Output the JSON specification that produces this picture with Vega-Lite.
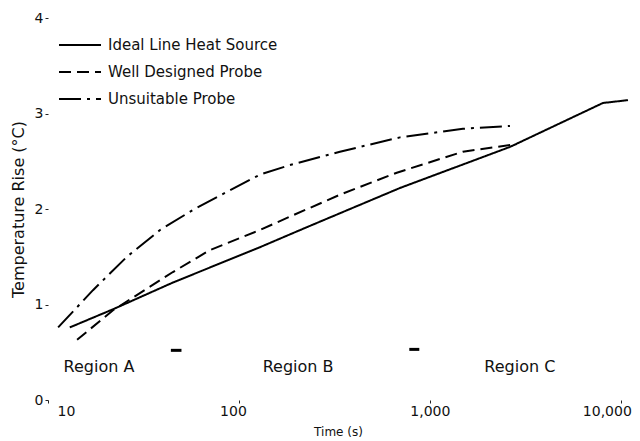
{
  "$schema": "https://vega.github.io/schema/vega-lite/v6.json",
  "width": 580,
  "height": 382,
  "autosize": "none",
  "padding": {"left": 48, "top": 18, "right": 12, "bottom": 41},
  "background": "white",
  "config": {
    "view": {"stroke": null},
    "font": "DejaVu Sans",
    "axis": {"domain": false, "grid": false, "tickColor": "#222", "labelColor": "#111", "titleColor": "#111", "titleFontWeight": "normal"}
  },
  "data": {"values": [
    {"kind": "line", "series": "Ideal Line Heat Source", "t": 13.0, "v": 0.76},
    {"kind": "line", "series": "Ideal Line Heat Source", "t": 21.9, "v": 0.95},
    {"kind": "line", "series": "Ideal Line Heat Source", "t": 45.1, "v": 1.23},
    {"kind": "line", "series": "Ideal Line Heat Source", "t": 128.8, "v": 1.6},
    {"kind": "line", "series": "Ideal Line Heat Source", "t": 227, "v": 1.81},
    {"kind": "line", "series": "Ideal Line Heat Source", "t": 697, "v": 2.22},
    {"kind": "line", "series": "Ideal Line Heat Source", "t": 2625, "v": 2.65},
    {"kind": "line", "series": "Ideal Line Heat Source", "t": 8054, "v": 3.11},
    {"kind": "line", "series": "Ideal Line Heat Source", "t": 10900, "v": 3.14},
    {"kind": "line", "series": "Well Designed Probe", "t": 14.2, "v": 0.63},
    {"kind": "line", "series": "Well Designed Probe", "t": 21.9, "v": 0.94},
    {"kind": "line", "series": "Well Designed Probe", "t": 45.1, "v": 1.34},
    {"kind": "line", "series": "Well Designed Probe", "t": 70.5, "v": 1.57},
    {"kind": "line", "series": "Well Designed Probe", "t": 128.8, "v": 1.78},
    {"kind": "line", "series": "Well Designed Probe", "t": 185, "v": 1.92},
    {"kind": "line", "series": "Well Designed Probe", "t": 338, "v": 2.15},
    {"kind": "line", "series": "Well Designed Probe", "t": 671, "v": 2.38},
    {"kind": "line", "series": "Well Designed Probe", "t": 1489, "v": 2.6},
    {"kind": "line", "series": "Well Designed Probe", "t": 2851, "v": 2.68},
    {"kind": "line", "series": "Unsuitable Probe", "t": 11.3, "v": 0.76},
    {"kind": "line", "series": "Unsuitable Probe", "t": 17.2, "v": 1.15},
    {"kind": "line", "series": "Unsuitable Probe", "t": 25.9, "v": 1.5},
    {"kind": "line", "series": "Unsuitable Probe", "t": 38.6, "v": 1.78},
    {"kind": "line", "series": "Unsuitable Probe", "t": 57.4, "v": 1.99},
    {"kind": "line", "series": "Unsuitable Probe", "t": 86.5, "v": 2.18},
    {"kind": "line", "series": "Unsuitable Probe", "t": 128.8, "v": 2.36},
    {"kind": "line", "series": "Unsuitable Probe", "t": 185, "v": 2.46},
    {"kind": "line", "series": "Unsuitable Probe", "t": 338, "v": 2.6},
    {"kind": "line", "series": "Unsuitable Probe", "t": 697, "v": 2.75},
    {"kind": "line", "series": "Unsuitable Probe", "t": 1489, "v": 2.84},
    {"kind": "line", "series": "Unsuitable Probe", "t": 2625, "v": 2.87},
    {"kind": "region", "label": "Region A", "t": 18.5, "v": 0.35},
    {"kind": "region", "label": "Region B", "t": 204, "v": 0.35},
    {"kind": "region", "label": "Region C", "t": 2958, "v": 0.35},
    {"kind": "marker", "t": 44, "t2": 50, "v": 0.52},
    {"kind": "marker", "t": 780, "t2": 880, "v": 0.53}
  ]},
  "encoding": {
    "x": {"field": "t", "type": "quantitative",
      "scale": {"type": "log", "domain": [10, 10900], "nice": false},
      "axis": {"values": [10, 100, 1000, 10000], "format": ",", "labelFlush": false, "labelFontSize": 14, "tickSize": 3, "labelPadding": 1, "title": "Time (s)", "titleFontSize": 12, "titlePadding": 8,
        "labelOffset": {"expr": "datum.value == 10000 ? -14 : datum.value == 10 ? 18 : datum.value == 100 ? -6 : 0"}}},
    "y": {"field": "v", "type": "quantitative",
      "scale": {"domain": [0, 4], "nice": false},
      "axis": {"values": [0, 1, 2, 3, 4], "labelFontSize": 14, "tickSize": 3, "labelPadding": 2, "title": "Temperature Rise (°C)", "titleFontSize": 16, "titlePadding": 8}}
  },
  "layer": [
    {
      "transform": [{"filter": "datum.kind === 'line'"}],
      "mark": {"type": "line", "color": "black", "strokeWidth": 2},
      "encoding": {
        "strokeDash": {"field": "series", "type": "nominal",
          "scale": {"domain": ["Ideal Line Heat Source", "Well Designed Probe", "Unsuitable Probe"], "range": [[1, 0], [12, 6], [22, 6, 3, 6]]},
          "legend": {"title": null, "orient": "none", "legendX": 21, "legendY": 16, "symbolType": "M-2.1,0H2.1", "symbolSize": 400, "symbolStrokeWidth": 2, "symbolStrokeColor": "black", "labelFontSize": 15, "labelOffset": 17, "labelLimit": 400, "rowPadding": 8, "labelColor": "#111"}}
      }
    },
    {
      "transform": [{"filter": "datum.kind === 'region'"}],
      "mark": {"type": "text", "fontSize": 16, "color": "#111"},
      "encoding": {"text": {"field": "label"}}
    },
    {
      "transform": [{"filter": "datum.kind === 'marker'"}],
      "mark": {"type": "rule", "color": "black", "strokeWidth": 3},
      "encoding": {"x2": {"field": "t2"}}
    }
  ]
}
